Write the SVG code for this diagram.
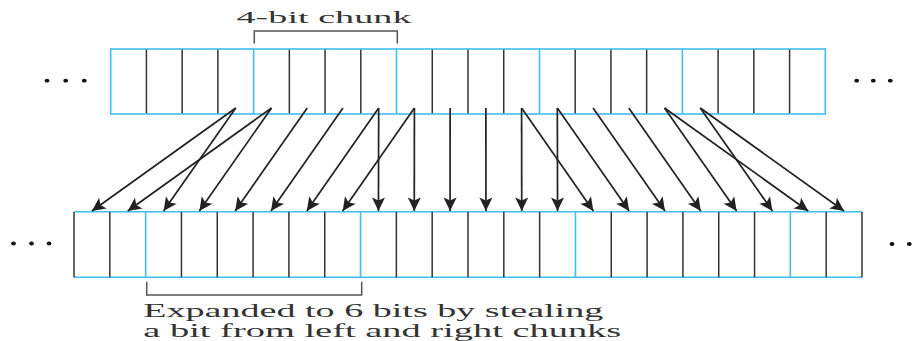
<svg xmlns="http://www.w3.org/2000/svg" width="922" height="341" viewBox="0 0 922 341">
<style>
.blue{stroke:#3fbff0;stroke-width:1.6;fill:none}
.div{stroke:#333;stroke-width:1.5}
.brk{stroke:#555;stroke-width:1.5;fill:none}
.arr{stroke:#222;stroke-width:1.7;marker-end:url(#ah)}
.lbl{font-family:"Liberation Serif","Times New Roman",serif;fill:#333}
.dot{fill:#111}
</style>
<defs>
<marker id="ah" markerUnits="userSpaceOnUse" markerWidth="16" markerHeight="16" viewBox="-15 -8 16 16" refX="0" refY="0" orient="auto">
<path d="M0,0 L-13.5,-6.5 L-10.5,0 L-13.5,6.5 Z" fill="#222"/>
</marker>
</defs>
<g id="top-label">
<text class="lbl" x="236.5" y="23" font-size="17" textLength="175" lengthAdjust="spacingAndGlyphs">4-bit chunk</text>
<path class="brk" d="M254.3,43.5 V31 H397.3 V43.5"/>
</g>
<g id="top-row">
<g class="div">
<line x1="146.43" y1="49" x2="146.43" y2="114"/>
<line x1="182.16" y1="49" x2="182.16" y2="114"/>
<line x1="217.89" y1="49" x2="217.89" y2="114"/>
<line x1="289.35" y1="49" x2="289.35" y2="114"/>
<line x1="325.08" y1="49" x2="325.08" y2="114"/>
<line x1="360.81" y1="49" x2="360.81" y2="114"/>
<line x1="432.27" y1="49" x2="432.27" y2="114"/>
<line x1="468.0" y1="49" x2="468.0" y2="114"/>
<line x1="503.73" y1="49" x2="503.73" y2="114"/>
<line x1="575.19" y1="49" x2="575.19" y2="114"/>
<line x1="610.92" y1="49" x2="610.92" y2="114"/>
<line x1="646.65" y1="49" x2="646.65" y2="114"/>
<line x1="718.11" y1="49" x2="718.11" y2="114"/>
<line x1="753.84" y1="49" x2="753.84" y2="114"/>
<line x1="789.57" y1="49" x2="789.57" y2="114"/>
</g>
<g class="blue">
<rect x="110.7" y="49" width="714.6" height="65"/>
<line x1="253.62" y1="49" x2="253.62" y2="114"/>
<line x1="396.54" y1="49" x2="396.54" y2="114"/>
<line x1="539.46" y1="49" x2="539.46" y2="114"/>
<line x1="682.38" y1="49" x2="682.38" y2="114"/>
</g>
</g>
<g id="bottom-row">
<g class="blue">
<line x1="74" y1="211.7" x2="862" y2="211.7"/>
<line x1="74" y1="277.3" x2="862" y2="277.3"/>
<line x1="145.64" y1="211.7" x2="145.64" y2="277.3"/>
<line x1="360.55" y1="211.7" x2="360.55" y2="277.3"/>
<line x1="575.45" y1="211.7" x2="575.45" y2="277.3"/>
<line x1="790.36" y1="211.7" x2="790.36" y2="277.3"/>
</g>
<g class="div">
<line x1="74" y1="212" x2="74" y2="277.3"/>
<line x1="109.82" y1="212" x2="109.82" y2="277.3"/>
<line x1="181.45" y1="212" x2="181.45" y2="277.3"/>
<line x1="217.27" y1="212" x2="217.27" y2="277.3"/>
<line x1="253.09" y1="212" x2="253.09" y2="277.3"/>
<line x1="288.91" y1="212" x2="288.91" y2="277.3"/>
<line x1="324.73" y1="212" x2="324.73" y2="277.3"/>
<line x1="396.36" y1="212" x2="396.36" y2="277.3"/>
<line x1="432.18" y1="212" x2="432.18" y2="277.3"/>
<line x1="468.0" y1="212" x2="468.0" y2="277.3"/>
<line x1="503.82" y1="212" x2="503.82" y2="277.3"/>
<line x1="539.64" y1="212" x2="539.64" y2="277.3"/>
<line x1="611.27" y1="212" x2="611.27" y2="277.3"/>
<line x1="647.09" y1="212" x2="647.09" y2="277.3"/>
<line x1="682.91" y1="212" x2="682.91" y2="277.3"/>
<line x1="718.73" y1="212" x2="718.73" y2="277.3"/>
<line x1="754.55" y1="212" x2="754.55" y2="277.3"/>
<line x1="826.18" y1="212" x2="826.18" y2="277.3"/>
<line x1="862" y1="212" x2="862" y2="277.3"/>
</g>
</g>
<g id="bottom-label">
<path class="brk" d="M146.7,281.7 V295 H361.7 V281.7"/>
<text class="lbl" x="143.3" y="316.7" font-size="19" textLength="460" lengthAdjust="spacingAndGlyphs">Expanded to 6 bits by stealing</text>
<text class="lbl" x="143.3" y="336.5" font-size="19" textLength="478" lengthAdjust="spacingAndGlyphs">a bit from left and right chunks</text>
</g>
<g id="ellipses">
<ellipse class="dot" cx="47" cy="80.7" rx="2.4" ry="1.9"/>
<ellipse class="dot" cx="65.7" cy="80.7" rx="2.4" ry="1.9"/>
<ellipse class="dot" cx="84.3" cy="80.7" rx="2.4" ry="1.9"/>
<ellipse class="dot" cx="856.7" cy="80.7" rx="2.4" ry="1.9"/>
<ellipse class="dot" cx="873.3" cy="80.7" rx="2.4" ry="1.9"/>
<ellipse class="dot" cx="890.3" cy="80.7" rx="2.4" ry="1.9"/>
<ellipse class="dot" cx="13.5" cy="243.5" rx="2.4" ry="1.9"/>
<ellipse class="dot" cx="31.5" cy="243.5" rx="2.4" ry="1.9"/>
<ellipse class="dot" cx="49" cy="243.5" rx="2.4" ry="1.9"/>
<ellipse class="dot" cx="892" cy="244" rx="2.4" ry="1.9"/>
<ellipse class="dot" cx="909.3" cy="244" rx="2.4" ry="1.9"/>
<ellipse class="dot" cx="925.5" cy="244" rx="2.4" ry="1.9"/>
</g>
<g id="connectors">
<line class="arr" x1="235.76" y1="108" x2="91.91" y2="211"/>
<line class="arr" x1="271.49" y1="108" x2="127.73" y2="211"/>
<line class="arr" x1="235.76" y1="108" x2="163.55" y2="211"/>
<line class="arr" x1="271.49" y1="108" x2="199.36" y2="211"/>
<line class="arr" x1="307.22" y1="108" x2="235.18" y2="211"/>
<line class="arr" x1="342.95" y1="108" x2="271.0" y2="211"/>
<line class="arr" x1="378.68" y1="108" x2="306.82" y2="211"/>
<line class="arr" x1="414.41" y1="108" x2="342.64" y2="211"/>
<line class="arr" x1="378.68" y1="108" x2="378.45" y2="211"/>
<line class="arr" x1="414.41" y1="108" x2="414.27" y2="211"/>
<line class="arr" x1="450.14" y1="108" x2="450.09" y2="211"/>
<line class="arr" x1="485.87" y1="108" x2="485.91" y2="211"/>
<line class="arr" x1="521.6" y1="108" x2="521.73" y2="211"/>
<line class="arr" x1="557.33" y1="108" x2="557.55" y2="211"/>
<line class="arr" x1="521.6" y1="108" x2="593.36" y2="211"/>
<line class="arr" x1="557.33" y1="108" x2="629.18" y2="211"/>
<line class="arr" x1="593.06" y1="108" x2="665.0" y2="211"/>
<line class="arr" x1="628.79" y1="108" x2="700.82" y2="211"/>
<line class="arr" x1="664.52" y1="108" x2="736.64" y2="211"/>
<line class="arr" x1="700.25" y1="108" x2="772.45" y2="211"/>
<line class="arr" x1="664.52" y1="108" x2="808.27" y2="211"/>
<line class="arr" x1="700.25" y1="108" x2="844.09" y2="211"/>
</g>
</svg>
